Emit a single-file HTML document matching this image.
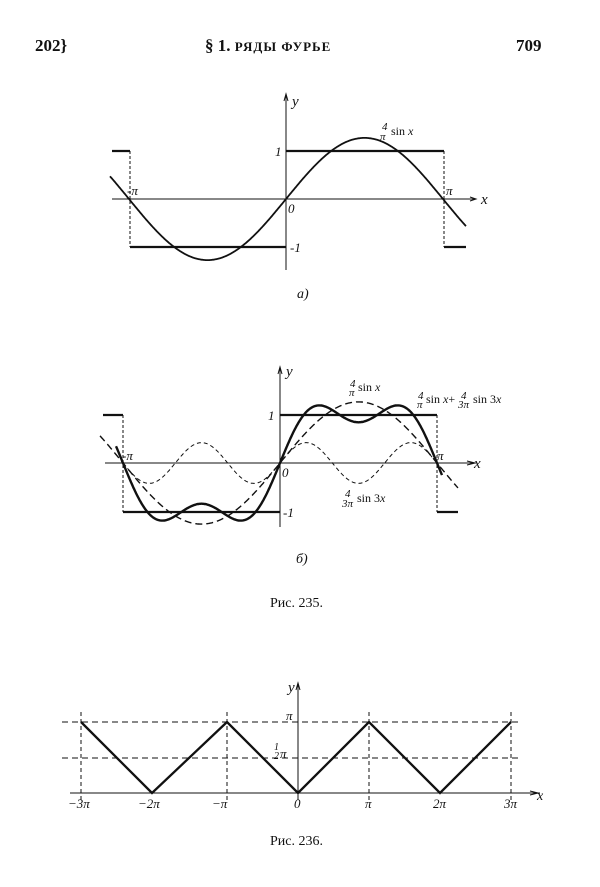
<!DOCTYPE html>
<html><head><meta charset="utf-8"><style>
html,body{margin:0;padding:0;background:#fff;}
svg{display:block}
text{font-family:"Liberation Serif",serif;fill:#111}
.i{font-style:italic}
</style></head><body>
<svg id="s" width="600" height="887" viewBox="0 0 600 887" xmlns="http://www.w3.org/2000/svg">
<g font-size="17" font-weight="bold"><text x="35" y="51">202}</text><text x="516" y="51">709</text>
<text x="205" y="51">§ 1. <tspan font-size="13" letter-spacing="1">РЯДЫ ФУРЬЕ</tspan></text></g>
<g id="g" fill="none" stroke="#111"></g>
<g font-size="13" class="i">
<text x="292" y="106" font-size="15">y</text><text x="481" y="204" font-size="15">x</text>
<text x="127" y="195">-π</text><text x="446" y="195">π</text><text x="288" y="213">0</text>
<text x="275" y="156">1</text><text x="290" y="252">-1</text>
<text x="382" y="130" font-size="11">4</text><text x="380" y="140" font-size="11">π</text><text x="391" y="135" font-size="12" style="font-style:normal">sin <tspan class="i">x</tspan></text>
<text x="297" y="298" font-size="14">a)</text>
<text x="286" y="376" font-size="15">y</text><text x="474" y="468" font-size="15">x</text>
<text x="122" y="460">-π</text><text x="437" y="460">π</text><text x="282" y="477">0</text>
<text x="268" y="420">1</text><text x="283" y="517">-1</text>
<text x="350" y="387" font-size="11">4</text><text x="349" y="396" font-size="11">π</text><text x="358" y="391" font-size="12" style="font-style:normal">sin <tspan class="i">x</tspan></text>
<text x="418" y="399" font-size="11">4</text><text x="417" y="408" font-size="11">π</text><text x="426" y="403" font-size="12" style="font-style:normal">sin <tspan class="i">x</tspan>+</text>
<text x="461" y="399" font-size="11">4</text><text x="458" y="408" font-size="11">3π</text><text x="473" y="403" font-size="12" style="font-style:normal">sin 3<tspan class="i">x</tspan></text>
<text x="345" y="497" font-size="11">4</text><text x="342" y="507" font-size="11">3π</text><text x="357" y="502" font-size="12" style="font-style:normal">sin 3<tspan class="i">x</tspan></text>
<text x="296" y="563" font-size="14">б)</text>
<text x="288" y="692" font-size="15">y</text><text x="537" y="800" font-size="14">x</text>
<text x="286" y="720">π</text><text x="274" y="750" font-size="10">1</text><text x="274" y="759" font-size="10">2</text><text x="280" y="758">π</text>
<text x="68" y="808">−3π</text><text x="138" y="808">−2π</text><text x="212" y="808">−π</text><text x="294" y="808">0</text><text x="365" y="808">π</text><text x="433" y="808">2π</text><text x="504" y="808">3π</text>
</g>
<g font-size="14"><text x="270" y="607">Рис. 235.</text><text x="270" y="845">Рис. 236.</text></g>
</svg>
<script>
var g=document.getElementById('g'),NS='http://www.w3.org/2000/svg';
function P(d,w,da){var p=document.createElementNS(NS,'path');p.setAttribute('d',d);p.setAttribute('stroke-width',w);if(da)p.setAttribute('stroke-dasharray',da);g.appendChild(p);}
function F(ox,oy,s,a,b,f){var d='';for(var x=a;x<=b;x+=0.5){var t=(x-ox)/s*Math.PI;d+=(d?'L':'M')+x.toFixed(1)+','+(oy-f(t)).toFixed(1);}return d;}
var ox=286,oy=199,s=157,u=48;
P('M112,'+oy+'H475',1);P('M'+ox+',95V270',1);P('M470,197L476,199L470,201',1);P('M284,101L286,94L288,101',1);
P('M112,151H130M130,247H286M286,151H444M444,247H466',2.2);
P('M130,151V247M444,151V247',1,'3,2');
P(F(ox,oy,s,110,466,function(t){return 4/Math.PI*u*Math.sin(t)}),1.8);
ox=280;oy=463;
P('M105,'+oy+'H476',1);P('M'+ox+',368V527',1);P('M467,461L475,463L467,465',1);P('M278,374L280,367L282,374',1);
P('M103,415H123M123,512H280M280,415H437M437,512H458',2.2);
P('M123,415V512M437,415V512',1,'3,2');
P(F(ox,oy,s,100,458,function(t){return 4/Math.PI*u*Math.sin(t)}),1.4,'7,4');
P(F(ox,oy,s,123,437,function(t){return 4/(3*Math.PI)*u*Math.sin(3*t)}),1,'4,3');
P(F(ox,oy,s,116,442,function(t){return 4/Math.PI*u*(Math.sin(t)+Math.sin(3*t)/3)}),2.4);
ox=298;oy=793;s=71;
P('M70,'+oy+'H540',1);P('M'+ox+',683V800',1);P('M530,791L538,793L530,795',1);P('M296,690L298,683L300,690',1);
P('M62,722H518M62,758H518',1,'6,4');
P('M81,712V800M227,712V800M369,712V800M511,712V800',1,'4,3');
P('M81,722L152,793L227,722L298,793L369,722L440,793L511,722',2.3);
</script>
</body></html>
